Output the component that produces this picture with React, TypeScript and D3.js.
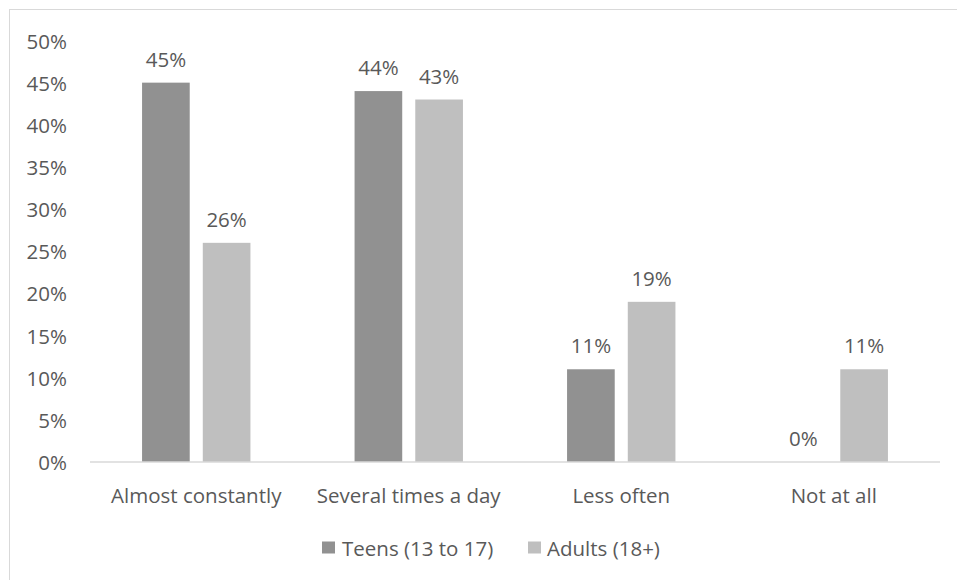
import React from "react";
import * as d3 from "d3";

const categories = ["Almost constantly", "Several times a day", "Less often", "Not at all"];
const seriesNames = ["Teens (13 to 17)", "Adults (18+)"];
const teens = [45, 44, 11, 0];
const adults = [26, 43, 19, 11];
const yTicks = [0, 5, 10, 15, 20, 25, 30, 35, 40, 45, 50];

const colors = ["#919191", "#bfbfbf"];
const textColor = "#595959";
const font = "'Open Sans', Lato, sans-serif";
const fontSize = 20.5;

const W = 957;
const H = 580;
const plot = { left: 90, right: 940, top: 40.5, bottom: 462 };

export default function App() {
  const x0 = d3
    .scaleBand<string>()
    .domain(categories)
    .range([plot.left, plot.right])
    .paddingInner(0.49)
    .paddingOuter(0.245);
  const x1 = d3
    .scaleBand<string>()
    .domain(seriesNames)
    .range([0, x0.bandwidth()])
    .paddingInner(0.215);
  const y = d3.scaleLinear().domain([0, 50]).range([plot.bottom, plot.top]);

  const series = [teens, adults];

  return (
    <svg
      width={W}
      height={H}
      style={{ position: "absolute", left: 0, top: 0, background: "#fff" }}
      fontFamily={font}
    >
      <rect x={9.5} y={9.5} width={W + 20} height={H + 20} fill="#fff" stroke="#d9d9d9" strokeWidth={1} />

      {yTicks.map((t) => (
        <text
          key={t}
          x={67}
          y={y(t)}
          textAnchor="end"
          dominantBaseline="central"
          fontSize={fontSize}
          fill={textColor}
        >
          {t}%
        </text>
      ))}

      {categories.map((c, ci) =>
        series.map((vals, si) => {
          const v = vals[ci];
          const bx = (x0(c) as number) + (x1(seriesNames[si]) as number);
          const bw = x1.bandwidth();
          return (
            <g key={c + si}>
              <rect
                x={bx}
                y={y(v)}
                width={bw}
                height={y(0) - y(v)}
                fill={colors[si]}
              />
              <text
                x={bx + bw / 2}
                y={y(v) - 24}
                textAnchor="middle"
                dominantBaseline="central"
                fontSize={fontSize}
                fill={textColor}
              >
                {v}%
              </text>
            </g>
          );
        })
      )}

      <line x1={plot.left} x2={plot.right} y1={y(0)} y2={y(0)} stroke="#d9d9d9" strokeWidth={1.5} />

      {categories.map((c) => (
        <text
          key={c}
          x={(x0(c) as number) + x0.bandwidth() / 2}
          y={495}
          textAnchor="middle"
          dominantBaseline="central"
          fontSize={fontSize}
          fill={textColor}
        >
          {c}
        </text>
      ))}

      {[
        { name: seriesNames[0], sx: 322, tx: 342 },
        { name: seriesNames[1], sx: 528, tx: 547 },
      ].map((l, i) => (
        <g key={l.name}>
          <rect x={l.sx} y={541.5} width={13} height={12} fill={colors[i]} />
          <text x={l.tx} y={547.5} dominantBaseline="central" fontSize={fontSize} fill={textColor}>
            {l.name}
          </text>
        </g>
      ))}
    </svg>
  );
}
